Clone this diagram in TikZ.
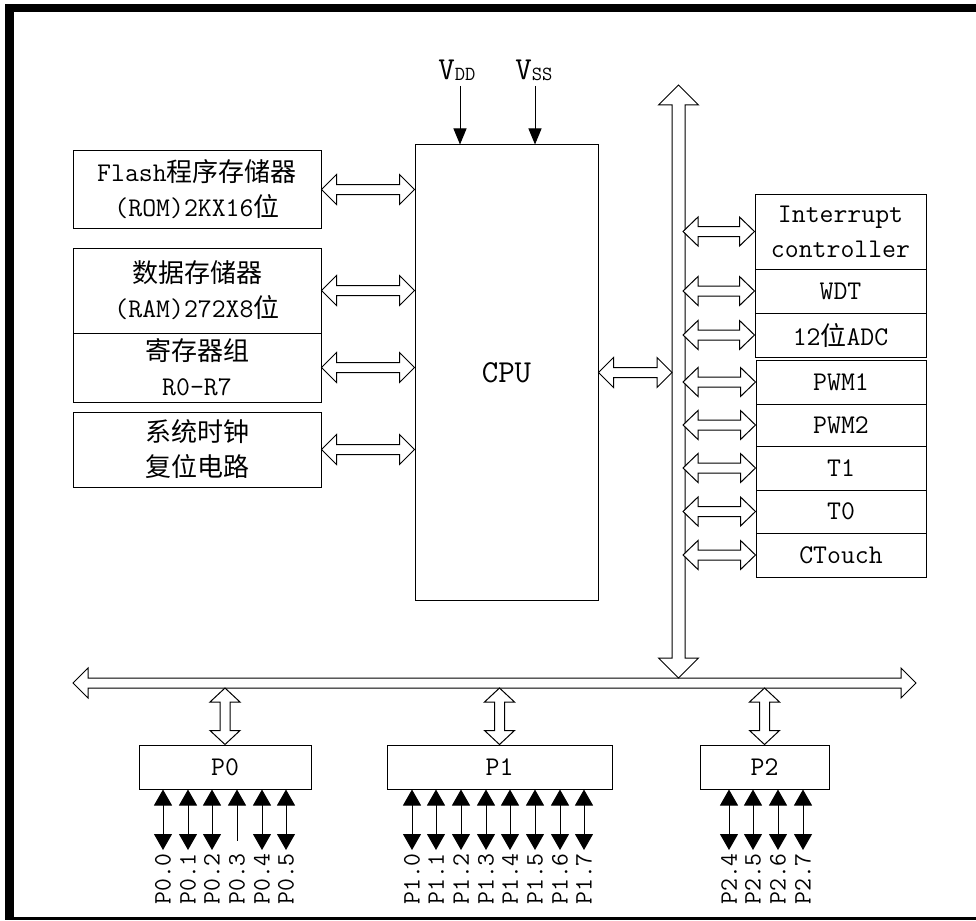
\documentclass[tikz,border=0pt]{standalone}
\usepackage{fontspec}
\newfontfamily\cjk{Noto Sans CJK SC}
\usetikzlibrary{arrows.meta,calc}
\newcommand\zh[1]{{\cjk\fontsize{26}{35}\selectfont #1}}
% horizontal hollow double arrow: #1 left tip, #2 right tip, #3 shaft half, #4 head half, #5 head length
\newcommand\hbus[5]{%
\draw[hollow] let \p1=(#1), \p2=(#2) in
 (\x1,\y1) -- (\x1+#5,\y1+#4) -- (\x1+#5,\y1+#3) -- (\x2-#5,\y1+#3) -- (\x2-#5,\y1+#4) -- (\x2,\y1)
 -- (\x2-#5,\y1-#4) -- (\x2-#5,\y1-#3) -- (\x1+#5,\y1-#3) -- (\x1+#5,\y1-#4) -- cycle;}
% vertical hollow double arrow: #1 top tip, #2 bottom tip
\newcommand\vbus[5]{%
\draw[hollow] let \p1=(#1), \p2=(#2) in
 (\x1,\y1) -- (\x1+#4,\y1-#5) -- (\x1+#3,\y1-#5) -- (\x1+#3,\y2+#5) -- (\x1+#4,\y2+#5) -- (\x1,\y2)
 -- (\x1-#4,\y2+#5) -- (\x1-#3,\y2+#5) -- (\x1-#3,\y1-#5) -- (\x1-#4,\y1-#5) -- cycle;}
\begin{document}
\begin{tikzpicture}[x=1pt,y=-1pt,
 box/.style={draw, line width=1pt, inner sep=0pt, align=center, font=\ttfamily\fontsize{27}{35}\selectfont},
 hollow/.style={draw, line width=1pt, fill=white, line join=miter},
 pin/.style={line width=1pt, {Triangle[length=16pt,width=18pt]}-{Triangle[length=16pt,width=18pt]}},
 pinup/.style={line width=1pt, {Triangle[length=16pt,width=18pt]}-},
 pinlab/.style={rotate=90, anchor=east, inner sep=0pt, font=\ttfamily\fontsize{25}{25}\selectfont},
 pwr/.style={line width=1pt, -{Triangle[length=16pt,width=13pt]}},
 lab/.style={inner sep=0pt, font=\ttfamily}
]
\useasboundingbox (0,0) rectangle (976,920);
% frame
\fill (5,4) rectangle (976,12);
\fill (5,4) rectangle (14,920);
\fill (5,917) rectangle (976,920);

% left boxes
\node[box, minimum width=248pt, minimum height=77pt] (flash) at (197,189.5) {Flash\zh{程序存储器}\\(ROM)2KX16\zh{位}};
\node[box, minimum width=248pt, minimum height=85pt] (ram) at (197,290.5) {\zh{数据存储器}\\(RAM)272X8\zh{位}};
\node[box, minimum width=248pt, minimum height=69pt] (reg) at (197,367.5) {\zh{寄存器组}\\R0-R7};
\node[box, minimum width=248pt, minimum height=75pt] (clk) at (197,449.5) {\zh{系统时钟}\\\zh{复位电路}};

% CPU
\node[box, minimum width=183pt, minimum height=455pt] (cpu) at (506.5,372.5) {\fontsize{32}{32}\selectfont CPU};

% power
\node[lab, font=\ttfamily\fontsize{32}{32}\selectfont] (vdd) at (457,70) {V\raisebox{-1pt}{\fontsize{20}{20}\selectfont DD}};
\node[lab, font=\ttfamily\fontsize{32}{32}\selectfont] (vss) at (534,70) {V\raisebox{-1pt}{\fontsize{20}{20}\selectfont SS}};
\coordinate (vddtop) at (460,86);
\coordinate (vsstop) at (535,86);
\draw[pwr] (vddtop) -- (vddtop |- cpu.north);
\draw[pwr] (vsstop) -- (vsstop |- cpu.north);

% right boxes
\node[box, minimum width=171pt, minimum height=75pt] (int) at (840.5,231.5) {Interrupt\\controller};
\node[box, minimum width=171pt, minimum height=44pt] (wdt) at (840.5,291) {WDT};
\node[box, minimum width=171pt, minimum height=44pt] (adc) at (840.5,335) {12\zh{位}ADC};
\node[box, minimum width=170pt, minimum height=44pt] (pwm1) at (841,382) {PWM1};
\node[box, minimum width=170pt, minimum height=42pt] (pwm2) at (841,425) {PWM2};
\node[box, minimum width=170pt, minimum height=44pt] (t1) at (841,468) {T1};
\node[box, minimum width=170pt, minimum height=43pt] (t0) at (841,511.5) {T0};
\node[box, minimum width=170pt, minimum height=44pt] (ctouch) at (841,555) {CTouch};

% port boxes
\node[box, minimum width=172pt, minimum height=44pt] (p0) at (225,767) {P0};
\node[box, minimum width=225pt, minimum height=44pt] (p1) at (499.5,767) {P1};
\node[box, minimum width=129pt, minimum height=44pt] (p2) at (764.5,767) {P2};

% buses
\coordinate (hl) at (73,683);
\coordinate (hr) at (916,683);
\coordinate (vt) at (678.5,85);
\coordinate (vb) at (678.5,678);
\coordinate (busL) at (672,0);
\coordinate (busR) at (683,0);
\coordinate (hbot) at (0,688);
\hbus{hl}{hr}{5pt}{15pt}{15pt}
\vbus{vt}{vb}{6.5pt}{20pt}{20pt}

% left arrows
\hbus{flash.east}{flash.east -| cpu.west}{5pt}{15pt}{15pt}
\hbus{ram.east}{ram.east -| cpu.west}{5pt}{15pt}{15pt}
\hbus{reg.east}{reg.east -| cpu.west}{5pt}{15pt}{15pt}
\hbus{clk.east}{clk.east -| cpu.west}{5pt}{15pt}{15pt}
% cpu to bus
\hbus{cpu.east}{cpu.east -| busL}{5pt}{15pt}{15pt}
% right arrows
\foreach \bx in {int,wdt,adc,pwm1,pwm2,t1,t0,ctouch}{
  \hbus{\bx.west -| busR}{\bx.west}{5pt}{14.5pt}{15pt}
}
% port arrows
\foreach \bx in {p0,p1,p2}{
  \vbus{\bx.north |- hbot}{\bx.north}{5pt}{15pt}{14pt}
}

% pins
\foreach \px/\i in {163/0,188/1,212/2,262/4,286/5}{
  \coordinate (e0\i) at (\px,850);
  \draw[pin] (p0.south -| e0\i) -- (e0\i);
}
\coordinate (e03) at (237,841);
\draw[pinup] (p0.south -| e03) -- (e03);
\foreach \px/\i in {163/0,188/1,212/2,237/3,262/4,286/5}{
  \node[pinlab] (l0\i) at (\px,853) {P0.\i};
}
\foreach \px/\i in {412/0,436/1,461/2,486/3,510/4,535/5,560/6,584/7}{
  \coordinate (e1\i) at (\px,850);
  \draw[pin] (p1.south -| e1\i) -- (e1\i);
  \node[pinlab] (l1\i) at (\px,853) {P1.\i};
}
\foreach \px/\i in {729/4,753/5,778/6,803/7}{
  \coordinate (e2\i) at (\px,850);
  \draw[pin] (p2.south -| e2\i) -- (e2\i);
  \node[pinlab] (l2\i) at (\px,853) {P2.\i};
}
\end{tikzpicture}
\end{document}
